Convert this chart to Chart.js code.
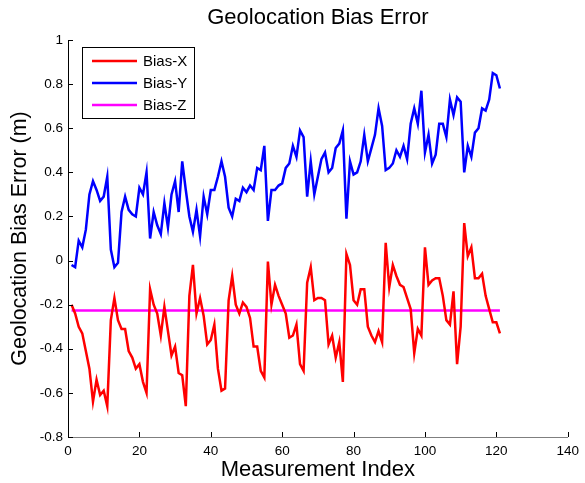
<!DOCTYPE html>
<html>
<head>
<meta charset="utf-8">
<script src="https://cdn.jsdelivr.net/npm/chart.js@4/dist/chart.umd.min.js"></script>
<style>
  html, body { margin: 0; padding: 0; background: #fff; }
  #wrap { width: 585px; height: 483px; position: relative; }
</style>
</head>
<body>
<div id="wrap"><canvas id="grafico"></canvas></div>
<script>
// medidas 1..121
const measurementIndex = Array.from({ length: 121 }, (_, i) => i + 1);

const biasX = [
  -0.20, -0.24, -0.30, -0.33, -0.41, -0.49, -0.64, -0.54, -0.61, -0.59,
  -0.66, -0.27, -0.17, -0.27, -0.31, -0.31, -0.41, -0.44, -0.49, -0.47,
  -0.55, -0.60, -0.13, -0.20, -0.24, -0.34, -0.21, -0.32, -0.43, -0.39,
  -0.51, -0.52, -0.66, -0.16, -0.02, -0.24, -0.17, -0.25, -0.38, -0.36,
  -0.29, -0.49, -0.59, -0.58, -0.18, -0.07, -0.20, -0.24, -0.19, -0.21,
  -0.26, -0.39, -0.39, -0.50, -0.53, -0.005, -0.20, -0.11, -0.16, -0.20,
  -0.24, -0.35, -0.34, -0.29, -0.47, -0.50, -0.10, -0.03, -0.18, -0.17,
  -0.17, -0.18, -0.38, -0.34, -0.44, -0.37, -0.55, 0.03, -0.02, -0.18,
  -0.20, -0.13, -0.13, -0.30, -0.34, -0.37, -0.32, -0.37, 0.08, -0.12,
  -0.02, -0.07, -0.11, -0.12, -0.17, -0.22, -0.42, -0.31, -0.34, 0.06,
  -0.11, -0.09, -0.08, -0.08, -0.16, -0.27, -0.29, -0.14, -0.47, -0.30,
  0.17, 0.02, 0.06, -0.08, -0.08, -0.06, -0.16, -0.22, -0.28, -0.28,
  -0.33,
];

const biasY = [
  -0.02, -0.03, 0.09, 0.06, 0.14, 0.30, 0.36, 0.32, 0.27, 0.29,
  0.38, 0.05, -0.03, -0.01, 0.22, 0.29, 0.23, 0.21, 0.20, 0.33,
  0.30, 0.40, 0.10, 0.22, 0.16, 0.12, 0.26, 0.15, 0.30, 0.36,
  0.22, 0.45, 0.32, 0.20, 0.13, 0.23, 0.11, 0.29, 0.21, 0.32,
  0.32, 0.38, 0.45, 0.38, 0.24, 0.20, 0.28, 0.27, 0.33, 0.31,
  0.34, 0.32, 0.42, 0.41, 0.52, 0.18, 0.32, 0.32, 0.34, 0.35,
  0.42, 0.44, 0.52, 0.47, 0.59, 0.56, 0.29, 0.45, 0.30, 0.38,
  0.46, 0.49, 0.40, 0.42, 0.51, 0.53, 0.59, 0.19, 0.45, 0.39,
  0.40, 0.45, 0.57, 0.45, 0.51, 0.57, 0.69, 0.61, 0.41, 0.42,
  0.44, 0.50, 0.47, 0.52, 0.46, 0.62, 0.69, 0.62, 0.77, 0.49,
  0.57, 0.44, 0.48, 0.62, 0.62, 0.56, 0.73, 0.66, 0.74, 0.72,
  0.40, 0.52, 0.47, 0.58, 0.60, 0.69, 0.68, 0.73, 0.85, 0.84,
  0.78,
];

const biasZ = [
  -0.227, -0.227, -0.227, -0.227, -0.227, -0.227, -0.227, -0.227, -0.227, -0.227,
  -0.227, -0.227, -0.227, -0.227, -0.227, -0.227, -0.227, -0.227, -0.227, -0.227,
  -0.227, -0.227, -0.227, -0.227, -0.227, -0.227, -0.227, -0.227, -0.227, -0.227,
  -0.227, -0.227, -0.227, -0.227, -0.227, -0.227, -0.227, -0.227, -0.227, -0.227,
  -0.227, -0.227, -0.227, -0.227, -0.227, -0.227, -0.227, -0.227, -0.227, -0.227,
  -0.227, -0.227, -0.227, -0.227, -0.227, -0.227, -0.227, -0.227, -0.227, -0.227,
  -0.227, -0.227, -0.227, -0.227, -0.227, -0.227, -0.227, -0.227, -0.227, -0.227,
  -0.227, -0.227, -0.227, -0.227, -0.227, -0.227, -0.227, -0.227, -0.227, -0.227,
  -0.227, -0.227, -0.227, -0.227, -0.227, -0.227, -0.227, -0.227, -0.227, -0.227,
  -0.227, -0.227, -0.227, -0.227, -0.227, -0.227, -0.227, -0.227, -0.227, -0.227,
  -0.227, -0.227, -0.227, -0.227, -0.227, -0.227, -0.227, -0.227, -0.227, -0.227,
  -0.227, -0.227, -0.227, -0.227, -0.227, -0.227, -0.227, -0.227, -0.227, -0.227,
  -0.227,
];

const xTicks = [0, 20, 40, 60, 80, 100, 120, 140];
const yTicks = [-0.8, -0.6, -0.4, -0.2, 0, 0.2, 0.4, 0.6, 0.8, 1];

const fonte = '"Liberation Sans", Arial, sans-serif';

function pontos(serie) {
  return serie.map((v, i) => ({ x: measurementIndex[i], y: v }));
}

const series = [
  { label: "Bias-X", data: biasX, cor: "#ff0000" },
  { label: "Bias-Y", data: biasY, cor: "#0000ff" },
  { label: "Bias-Z", data: biasZ, cor: "#ff00ff" },
];

// titulo, ticks para dentro e legenda estilo matlab
const extras = {
  id: "extras",
  afterDraw(chart) {
    const ctx = chart.ctx;
    const area = chart.chartArea;
    const sx = chart.scales.x;
    const sy = chart.scales.y;
    ctx.save();

    ctx.strokeStyle = "#000";
    ctx.lineWidth = 1;
    ctx.beginPath();
    xTicks.forEach((t) => {
      const px = Math.round(sx.getPixelForValue(t)) + 0.5;
      ctx.moveTo(px, area.bottom);
      ctx.lineTo(px, area.bottom - 5);
    });
    yTicks.forEach((t) => {
      const py = Math.round(sy.getPixelForValue(t)) + 0.5;
      ctx.moveTo(area.left, py);
      ctx.lineTo(area.left + 5, py);
    });
    ctx.stroke();

    ctx.fillStyle = "#000";
    ctx.font = "22px " + fonte;
    ctx.textAlign = "center";
    ctx.textBaseline = "middle";
    ctx.fillText("Geolocation Bias Error", (area.left + area.right) / 2, 18);

    // legenda
    const lx = 82.5, ly = 47.5, lw = 112, lh = 71;
    ctx.fillStyle = "#fff";
    ctx.fillRect(lx, ly, lw, lh);
    ctx.strokeStyle = "#000";
    ctx.strokeRect(lx, ly, lw, lh);
    ctx.font = "15px " + fonte;
    ctx.textAlign = "left";
    series.forEach((s, i) => {
      const y = 61 + i * 22;
      ctx.strokeStyle = s.cor;
      ctx.lineWidth = 2.5;
      ctx.beginPath();
      ctx.moveTo(92, y);
      ctx.lineTo(137, y);
      ctx.stroke();
      ctx.fillStyle = "#000";
      ctx.fillText(s.label, 143, y + 1);
    });
    ctx.restore();
  },
};

new Chart(document.getElementById("grafico"), {
  type: "line",
  data: {
    datasets: series.map((s) => ({
      label: s.label,
      data: pontos(s.data),
      borderColor: s.cor,
      backgroundColor: s.cor,
      borderWidth: 2.5,
      pointRadius: 0,
      tension: 0,
      fill: false,
    })),
  },
  options: {
    responsive: true,
    maintainAspectRatio: false,
    animation: false,
    layout: { padding: { left: 0, right: 13, top: 40, bottom: 0 } },
    plugins: {
      legend: { display: false },
      title: { display: false },
      tooltip: { enabled: false },
    },
    scales: {
      x: {
        type: "linear",
        min: 0,
        max: 140,
        afterBuildTicks: (scale) => {
          scale.ticks = xTicks.map((v) => ({ value: v }));
        },
        afterFit: (scale) => {
          scale.height = 46;
        },
        grid: { display: false, drawTicks: false },
        border: { display: true, color: "#7f7f7f", width: 1 },
        ticks: {
          color: "#000",
          font: { family: fonte, size: 13.5 },
          padding: 6,
          maxRotation: 0,
        },
        title: {
          display: true,
          text: "Measurement Index",
          color: "#000",
          font: { family: fonte, size: 22 },
          padding: { top: 0, bottom: 0 },
        },
      },
      y: {
        min: -0.8,
        max: 1,
        afterBuildTicks: (scale) => {
          scale.ticks = yTicks.map((v) => ({ value: v }));
        },
        afterFit: (scale) => {
          scale.width = 68;
        },
        grid: { display: false, drawTicks: false },
        border: { display: true, color: "#000", width: 1 },
        ticks: {
          color: "#000",
          font: { family: fonte, size: 13.5 },
          padding: 5,
          callback: (v) => String(Math.round(v * 10) / 10),
        },
        title: {
          display: true,
          text: "Geolocation Bias Error (m)",
          color: "#000",
          font: { family: fonte, size: 21.5 },
          padding: { top: 7, bottom: 0 },
        },
      },
    },
  },
  plugins: [extras],
});
</script>
</body>
</html>
